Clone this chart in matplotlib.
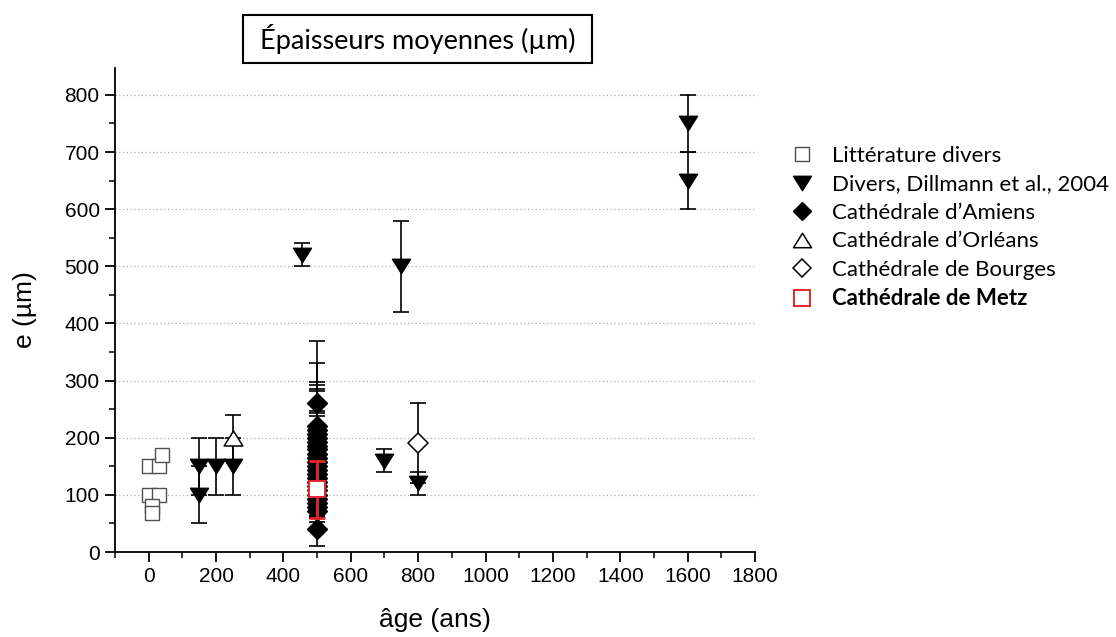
import matplotlib
matplotlib.use('Agg')
import matplotlib.pyplot as plt
from matplotlib.lines import Line2D
from matplotlib.patches import Rectangle
from matplotlib.path import Path

# ---------------- data ----------------
lit_x = [0, 31, 41, 0, 31, 11, 9]
lit_y = [150, 150, 170, 100, 100, 80, 68]

dil_x = [150, 150, 200, 250, 455, 700, 750, 800, 1600, 1600]
dil_y = [150, 100, 150, 150, 520, 160, 500, 120, 750, 650]
dil_err = [50, 50, 50, 50, 20, 20, 80, 20, 50, 50]

ami_y = [260, 220, 213, 206, 200, 193, 186, 180, 172, 165, 158, 150, 143,
         136, 129, 122, 115, 108, 100, 93, 86, 79, 72, 40]
ami_err = [110, 110, 30, 40, 98, 30, 106, 105, 109, 40, 35, 88, 45,
           30, 50, 40, 35, 45, 30, 40, 25, 20, 30, 30]
ami_x = [500] * len(ami_y)

orl_x = [250]
orl_y = [200]
orl_err = [40]

bou_x = [800]
bou_y = [190]
bou_err = [70]

metz_x = [500]
metz_y = [110]
metz_err = [50]

labels = ["Littérature divers", "Divers, Dillmann et al., 2004",
          "Cathédrale d\u2019Amiens", "Cathédrale d\u2019Orléans",
          "Cathédrale de Bourges", "Cathédrale de Metz"]
title = "Épaisseurs moyennes (µm)"
xlabel = "âge (ans)"
ylabel = "e (µm)"
xticks = list(range(0, 1801, 200))
yticks = list(range(0, 801, 100))

# ---------------- style ----------------
W, H, DPI = 11.16, 6.37, 100
fig = plt.figure(figsize=(W, H), dpi=DPI)
ax = fig.add_axes([115 / 1116, 1 - 552 / 637, (755 - 115) / 1116, (552 - 68) / 637])

tri_down = Path([(-1, 0.8), (1, 0.8), (0, -0.8), (-1, 0.8)],
                [Path.MOVETO, Path.LINETO, Path.LINETO, Path.CLOSEPOLY])
tri_up = Path([(-1, -0.8), (1, -0.8), (0, 0.8), (-1, -0.8)],
              [Path.MOVETO, Path.LINETO, Path.LINETO, Path.CLOSEPOLY])

AXFONT = 'Liberation Sans'
TXTFONT = 'Lato'
red = '#e8262a'
cap = 5.5
elw = 1.2

# grid
for yv in yticks[1:]:
    ax.axhline(yv, color='#b0b0b0', lw=0.9, ls=(0, (1, 2)), zorder=0)

# Literature squares
ax.plot(lit_x, lit_y, ls='none', marker='s', ms=10, mfc='white',
        mec='#505050', mew=1.0, zorder=3)

# Dillmann
ax.errorbar(dil_x, dil_y, yerr=dil_err, fmt='none', ecolor='black',
            elinewidth=elw, capsize=cap, capthick=elw, zorder=2)
ax.plot(dil_x, dil_y, ls='none', marker=tri_down, ms=13, mfc='black',
        mec='black', zorder=4)

# Amiens
ax.errorbar(ami_x, ami_y, yerr=ami_err, fmt='none', ecolor='black',
            elinewidth=elw, capsize=cap, capthick=elw, zorder=2)
ax.plot(ami_x, ami_y, ls='none', marker='D', ms=10.5, mfc='black',
        mec='black', zorder=4)

# Orléans
ax.errorbar(orl_x, orl_y, yerr=orl_err, fmt='none', ecolor='black',
            elinewidth=elw, capsize=cap, capthick=elw, zorder=2)
ax.plot(orl_x, orl_y, ls='none', marker=tri_up, ms=13.5, mfc='white',
        mec='black', mew=1.1, zorder=5)

# Bourges
ax.errorbar(bou_x, bou_y, yerr=bou_err, fmt='none', ecolor='black',
            elinewidth=elw, capsize=cap, capthick=elw, zorder=2)
ax.plot(bou_x, bou_y, ls='none', marker='D', ms=10.5, mfc='white',
        mec='black', mew=1.1, zorder=5)

# Metz
ax.errorbar(metz_x, metz_y, yerr=metz_err, fmt='none', ecolor=red,
            elinewidth=2.0, capsize=cap, capthick=2.0, zorder=6)
ax.plot(metz_x, metz_y, ls='none', marker='s', ms=12, mfc='white',
        mec=red, mew=1.4, zorder=7)

# axes
ax.set_xlim(-100, 1800)
ax.set_ylim(0, 847)
ax.set_xticks(xticks)
ax.set_yticks(yticks)
ax.set_xticks(list(range(-100, 1801, 100)), minor=True)
ax.set_yticks(list(range(0, 847, 50)), minor=True)
for s in ['top', 'right']:
    ax.spines[s].set_visible(False)
for s in ['left', 'bottom']:
    ax.spines[s].set_linewidth(1.3)
ax.tick_params(which='major', direction='out', length=7, width=1.3,
               labelsize=15, pad=4)
ax.tick_params(which='minor', direction='out', length=4, width=1.1)
for lab in ax.get_xticklabels() + ax.get_yticklabels():
    lab.set_fontfamily(AXFONT)
ax.set_xlabel(xlabel, fontsize=19, fontfamily=AXFONT, labelpad=16)
ax.set_ylabel(ylabel, fontsize=19, fontfamily=AXFONT, labelpad=20)

# title box
fig.patches.append(Rectangle((243 / 1116, 1 - 63 / 637), (592 - 243) / 1116,
                             48 / 637, transform=fig.transFigure,
                             fill=False, ec='black', lw=1.5))
fig.text(417.5 / 1116, 1 - 39 / 637, title, ha='center', va='center',
         fontsize=19.5, fontfamily=TXTFONT)

# legend
handles = [
    Line2D([], [], ls='none', marker='s', ms=9.5, mfc='white', mec='#505050', mew=1.0),
    Line2D([], [], ls='none', marker=tri_down, ms=13, mfc='black', mec='black'),
    Line2D([], [], ls='none', marker='D', ms=9, mfc='black', mec='black'),
    Line2D([], [], ls='none', marker=tri_up, ms=13, mfc='white', mec='black', mew=1.1),
    Line2D([], [], ls='none', marker='D', ms=9.5, mfc='white', mec='black', mew=1.1),
    Line2D([], [], ls='none', marker='s', ms=11, mfc='white', mec=red, mew=1.4),
]
leg = fig.legend(handles, labels, loc='upper left',
                 bbox_to_anchor=(778 / 1116, 1 - 135 / 637), frameon=False,
                 prop={'family': TXTFONT, 'size': 16}, handlelength=1.2,
                 handletextpad=0.75, labelspacing=0.38, borderpad=0)
leg.get_texts()[-1].set_fontweight('bold')

fig.savefig('out.png', dpi=DPI)
